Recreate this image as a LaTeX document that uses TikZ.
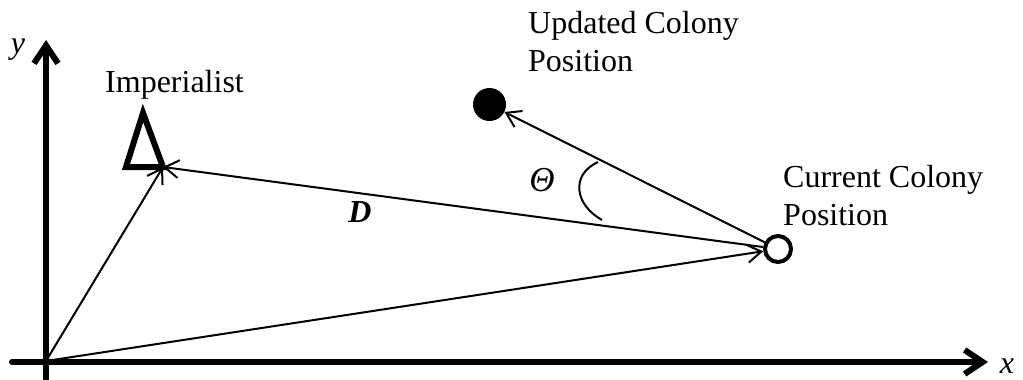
\documentclass[tikz,border=0pt]{standalone}
\usepackage{fontspec}
\setmainfont{Liberation Serif}
\usetikzlibrary{arrows.meta}
\begin{document}
\begin{tikzpicture}[x=1pt,y=-1pt,
  every node/.style={font=\fontsize{32}{38}\selectfont},
  axis/.style={line width=6pt,line cap=round,line join=round,-{Straight Barb[length=18pt,width=24pt]}},
  vec/.style={line width=2pt,-{Straight Barb[length=14pt,width=18pt]}},
  lbl/.style={inner sep=0pt,anchor=base west,align=left},
  colonyopen/.style={circle,draw,line width=4pt,minimum size=26pt,inner sep=0pt},
  colonyfull/.style={circle,fill,minimum size=33pt,inner sep=0pt}]
\useasboundingbox (0,0) rectangle (1023,380);
% axes
\coordinate (ybot) at (46,380);
\coordinate (ytop) at (46,40);
\coordinate (xleft) at (12,362);
\coordinate (xright) at (988,362);
\coordinate (O) at (46,361);
\draw[axis] (ybot) -- (ytop);
\draw[axis] (xleft) -- (xright);
\node[inner sep=0pt] (ylab) at (18,50) {\itshape y};
\node[inner sep=0pt] (xlab) at (1007,366) {\itshape x};
% imperialist
\coordinate (impt) at (163,167);
\draw[line width=6pt,line join=miter] (143,113) -- (126,167) -- (163,167) -- cycle;
\node[lbl] (implab) at (105,92) {Imperialist};
% colonies
\node[colonyopen] (cur) at (778,249) {};
\node[colonyfull] (upd) at (489.5,104.5) {};
\node[lbl] (updlab) at (528,71) {Updated Colony\\Position};
\node[lbl] (curlab) at (783,225) {Current Colony\\Position};
% vectors
\draw[vec] (O) -- (impt);
\draw[vec] (O) -- (cur);
\draw[vec] (cur) -- (impt);
\draw[vec] (cur) -- (upd);
% angle
\draw[line width=2pt] (598,162) .. controls (570,175) and (575,205) .. (602,220);
\node[inner sep=0pt,font=\fontsize{35}{40}\selectfont] (theta) at (542,180) {\itshape Θ};
\node[inner sep=0pt] (dlab) at (360,212) {\bfseries\itshape D};
\end{tikzpicture}
\end{document}
